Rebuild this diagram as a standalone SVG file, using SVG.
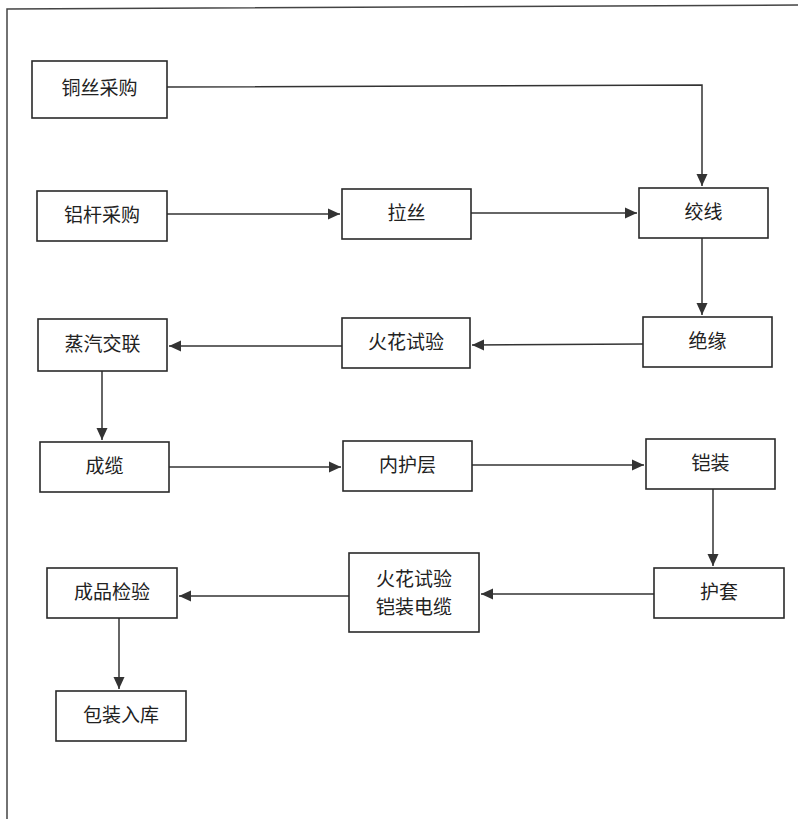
<svg xmlns="http://www.w3.org/2000/svg" width="798" height="819" viewBox="0 0 798 819">
<style>
.box{fill:#fff;stroke:#2a2a2a;stroke-width:1.6}
.lbl{font-family:"Liberation Serif","Noto Sans CJK SC",serif;font-size:19px;fill:#222;text-anchor:middle;dominant-baseline:central}
.ln{fill:none;stroke:#333;stroke-width:1.5}
</style>
<defs>
<marker id="ah" markerUnits="userSpaceOnUse" markerWidth="14" markerHeight="14" refX="12" refY="7" orient="auto">
<path d="M0,1.5 L12,7 L0,12.5 Z" fill="#333"/>
</marker>
</defs>
<rect x="0" y="0" width="798" height="819" fill="#fff"/>
<path d="M7,822 L7,9 L800,5" fill="none" stroke="#444" stroke-width="1.5"/>
<g id="connectors">
<path class="ln" d="M167,87 L702,85 L702,186" marker-end="url(#ah)"/>
<path class="ln" d="M167,214 L340,214" marker-end="url(#ah)"/>
<path class="ln" d="M471,213 L637,213" marker-end="url(#ah)"/>
<path class="ln" d="M702,238 L702,315" marker-end="url(#ah)"/>
<path class="ln" d="M643,344 L472,345" marker-end="url(#ah)"/>
<path class="ln" d="M342,346 L169,346" marker-end="url(#ah)"/>
<path class="ln" d="M102,371 L102,440" marker-end="url(#ah)"/>
<path class="ln" d="M169,467 L341,467" marker-end="url(#ah)"/>
<path class="ln" d="M472,465 L644,465" marker-end="url(#ah)"/>
<path class="ln" d="M713,489 L713,566" marker-end="url(#ah)"/>
<path class="ln" d="M654,594 L481,594" marker-end="url(#ah)"/>
<path class="ln" d="M349,596 L179,596" marker-end="url(#ah)"/>
<path class="ln" d="M119,618 L119,689" marker-end="url(#ah)"/>
</g>
<g id="n1"><rect class="box" x="32" y="61" width="135" height="57"/><text class="lbl" x="99.5" y="88">铜丝采购</text></g>
<g id="n2"><rect class="box" x="37" y="191" width="130" height="50"/><text class="lbl" x="102" y="215">铝杆采购</text></g>
<g id="n3"><rect class="box" x="342" y="189" width="129" height="50"/><text class="lbl" x="406.5" y="213">拉丝</text></g>
<g id="n4"><rect class="box" x="639" y="188" width="129" height="50"/><text class="lbl" x="703.5" y="212">绞线</text></g>
<g id="n5"><rect class="box" x="643" y="317" width="129" height="50"/><text class="lbl" x="707.5" y="341">绝缘</text></g>
<g id="n6"><rect class="box" x="342" y="318" width="128" height="50"/><text class="lbl" x="406" y="342">火花试验</text></g>
<g id="n7"><rect class="box" x="38" y="319" width="129" height="52"/><text class="lbl" x="102.5" y="344">蒸汽交联</text></g>
<g id="n8"><rect class="box" x="40" y="442" width="129" height="50"/><text class="lbl" x="104.5" y="466">成缆</text></g>
<g id="n9"><rect class="box" x="343" y="441" width="129" height="50"/><text class="lbl" x="407.5" y="465">内护层</text></g>
<g id="n10"><rect class="box" x="646" y="439" width="129" height="50"/><text class="lbl" x="710.5" y="463">铠装</text></g>
<g id="n11"><rect class="box" x="654" y="568" width="130" height="50"/><text class="lbl" x="719" y="592">护套</text></g>
<g id="n12"><rect class="box" x="349" y="553" width="130" height="79"/><text class="lbl" x="414" y="579">火花试验</text><text class="lbl" x="414" y="607">铠装电缆</text></g>
<g id="n13"><rect class="box" x="47" y="568" width="130" height="50"/><text class="lbl" x="112" y="592">成品检验</text></g>
<g id="n14"><rect class="box" x="56" y="691" width="130" height="50"/><text class="lbl" x="121" y="715">包装入库</text></g>
</svg>
